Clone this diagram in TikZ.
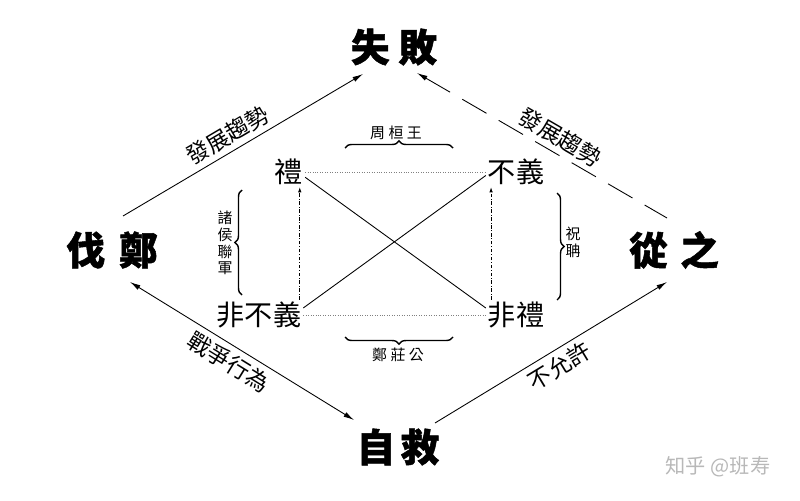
\documentclass[tikz,border=0pt]{standalone}
\usepackage{fontspec}
\usepackage{tikz}
\usetikzlibrary{arrows.meta,decorations.pathreplacing}
\newfontfamily\cjk{Noto Sans CJK TC}[BoldFeatures={FakeBold=1.3}]

\begin{document}
\begin{tikzpicture}[x=0.02cm,y=-0.02cm,
  big/.style={font=\cjk\bfseries\fontsize{22}{22}\selectfont, inner sep=1pt},
  word/.style={font=\cjk\fontsize{16}{16}\selectfont, inner sep=1pt},
  tag/.style={font=\cjk\fontsize{13}{13}\selectfont, inner sep=3pt},
  note/.style={font=\cjk\fontsize{8.5}{9.6}\selectfont, align=center, inner sep=0pt},
  arr/.style={-{Latex[length=6pt,width=3pt]}, line width=0.5pt},
  brc/.style={decorate, decoration={brace, amplitude=4pt}, line width=0.8pt}]
\useasboundingbox (0,0) rectangle (800,500);

\node[big] (sb) at (394,47) {失\hspace{5pt}敗};
\node[big] (fz) at (112,250) {伐\hspace{8pt}鄭};
\node[big] (cz) at (674,250) {從\hspace{7pt}之};
\node[big] (zj) at (398,447) {自\hspace{3pt}救};

\node[word] (li) at (289,172) {禮};
\node[word] (by) at (516,172) {不義};
\node[word] (fby) at (259,315) {非不義};
\node[word] (fl) at (516,315) {非禮};

\draw[arr] ([shift={(11,-34)}]fz.center) -- node[tag, sloped, above, pos=0.47] (t1) {發展趨勢} ([shift={(-31,27)}]sb.center);
\draw[{Latex[length=6pt,width=3pt]}-, line width=0.5pt, dash pattern=on 16pt off 8pt] ([shift={(23,26)}]sb.center) -- node[tag, sloped, above, pos=0.54] (t2) {發展趨勢} ([shift={(-7,-32)}]cz.center);
\draw[{Latex[length=6pt,width=3pt]}-{Latex[length=6pt,width=3pt]}, line width=0.5pt] ([shift={(18,32)}]fz.center) -- node[tag, sloped, below, pos=0.48] (t3) {戰爭行為} ([shift={(-44,-27)}]zj.center);
\draw[arr] ([shift={(37,-24)}]zj.center) -- node[tag, sloped, below, pos=0.5] (t4) {不允許} ([shift={(-7,32)}]cz.center);

\draw[densely dotted, gray] (li.east) -- (by.west);
\draw[densely dotted, gray] (fby.east) -- (fl.west);
\draw[line width=0.5pt] ([yshift=-3pt]li.east) -- ([yshift=4pt]fl.west);
\draw[line width=0.5pt] ([yshift=4pt]fby.east) -- ([yshift=-2pt]by.west);
\draw[-{Latex[length=3pt,width=2pt]}, line width=0.5pt, dash pattern=on 2pt off 1pt on 0.5pt off 1pt] ([xshift=-2pt]fby.north east) -- ([xshift=-2pt]fby.north east |- li.south);
\draw[-{Latex[length=3pt,width=2pt]}, line width=0.5pt, dash pattern=on 2pt off 1pt on 0.5pt off 1pt] ([xshift=3pt]fl.north west) -- ([xshift=3pt]fl.north west |- by.south);

\draw[brc] (345,148) -- (453,148);
\node[note] (zhw) at (396,133) {周\hspace{2pt}桓\hspace{2pt}王};
\draw[brc] (453,337) -- (345,337);
\node[note] (zzg) at (398,355) {鄭\hspace{2pt}莊\hspace{2pt}公};
\draw[brc] (242,295) -- (242,190);
\node[note] (zhl) at (225,243) {諸\\侯\\聯\\軍};
\draw[brc] (557,193) -- (557,300);
\node[note] (zd) at (573,242) {祝\\聃};

\node[font=\cjk\fontsize{11.5}{12}\selectfont, text=black!28] (wm) at (718,467) {知乎 @班寿};
\end{tikzpicture}
\end{document}
